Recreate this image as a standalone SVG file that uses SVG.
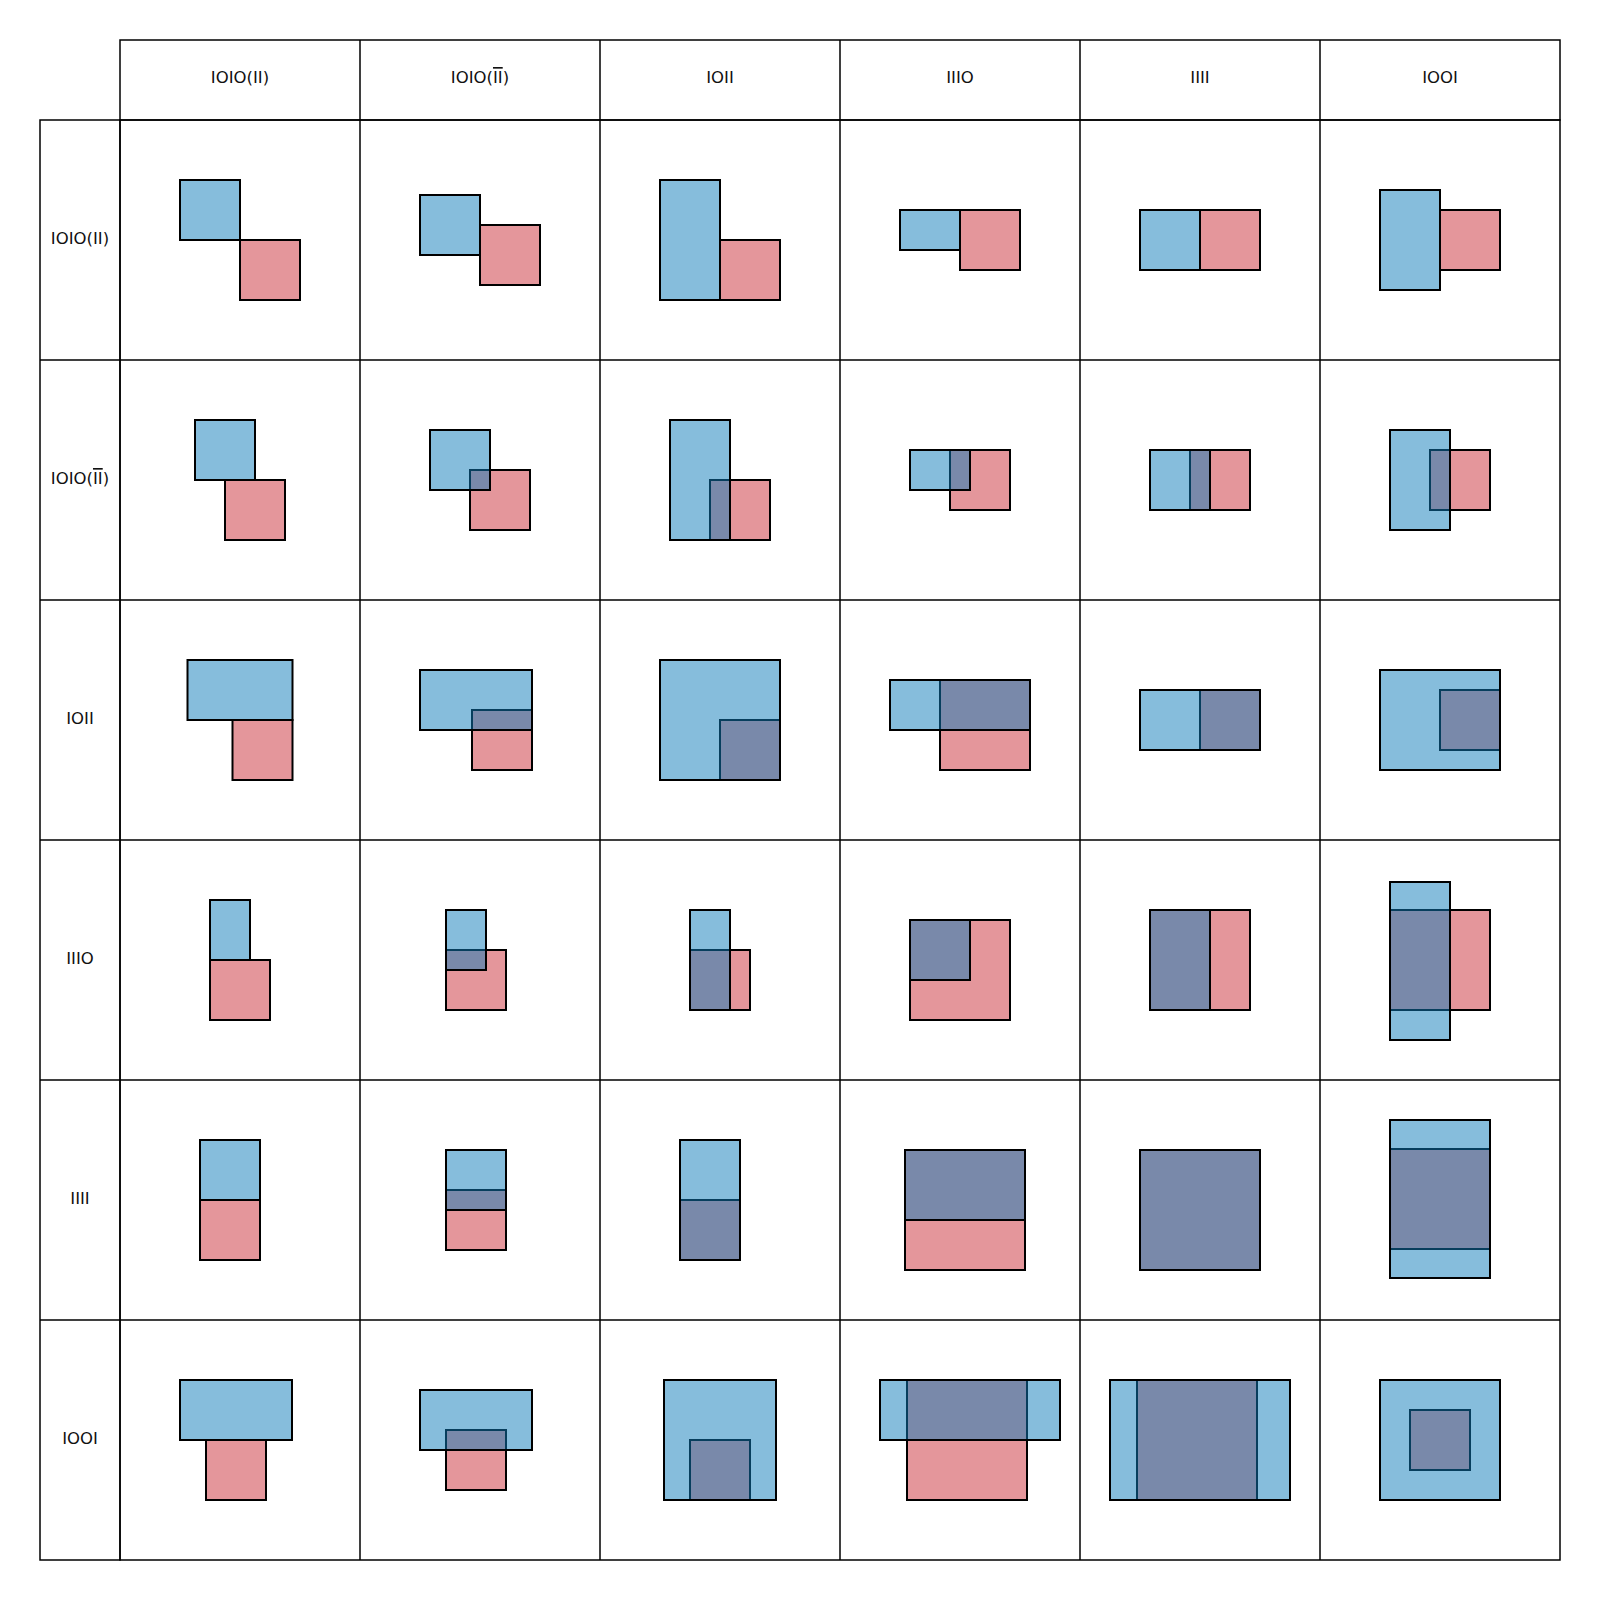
<svg xmlns="http://www.w3.org/2000/svg" width="1600" height="1600" viewBox="0 0 1600 1600">
<style>
.grid{fill:none;stroke:#000;stroke-width:1.5}
.r{fill:#e4969b;stroke:#000;stroke-width:2}
.b{fill:rgb(13,123,185);fill-opacity:.5;stroke:#000;stroke-width:2}
.lbl{font-family:"DejaVu Sans","Liberation Sans",Arial,sans-serif;font-size:16.5px;text-anchor:middle;fill:#111}
</style>
<rect width="1600" height="1600" fill="#fff"/>
<g id="grid">
<rect class="grid" x="120" y="40" width="1440" height="80"/>
<rect class="grid" x="40" y="120" width="80" height="1440"/>
<rect class="grid" x="120" y="120" width="1440" height="1440"/>
<path class="grid" d="M360 40V1560M600 40V1560M840 40V1560M1080 40V1560M1320 40V1560M40 360H1560M40 600H1560M40 840H1560M40 1080H1560M40 1320H1560"/>
</g>
<g id="headers">
<text class="lbl" x="240" y="83">IOIO(II)</text>
<text class="lbl" x="480" y="83">IOIO(<tspan text-decoration="overline">II</tspan>)</text>
<text class="lbl" x="720" y="83">IOII</text>
<text class="lbl" x="960" y="83">IIIO</text>
<text class="lbl" x="1200" y="83">IIII</text>
<text class="lbl" x="1440" y="83">IOOI</text>
</g>
<g id="row-labels">
<text class="lbl" x="80" y="244">IOIO(II)</text>
<text class="lbl" x="80" y="484">IOIO(<tspan text-decoration="overline">II</tspan>)</text>
<text class="lbl" x="80" y="724">IOII</text>
<text class="lbl" x="80" y="964">IIIO</text>
<text class="lbl" x="80" y="1204">IIII</text>
<text class="lbl" x="80" y="1444">IOOI</text>
</g>
<g id="c11"><rect class="r" x="240" y="240" width="60" height="60"/><rect class="b" x="180" y="180" width="60" height="60"/></g>
<g id="c12"><rect class="r" x="480" y="225" width="60" height="60"/><rect class="b" x="420" y="195" width="60" height="60"/></g>
<g id="c13"><rect class="r" x="720" y="240" width="60" height="60"/><rect class="b" x="660" y="180" width="60" height="120"/></g>
<g id="c14"><rect class="r" x="960" y="210" width="60" height="60"/><rect class="b" x="900" y="210" width="60" height="40"/></g>
<g id="c15"><rect class="r" x="1200" y="210" width="60" height="60"/><rect class="b" x="1140" y="210" width="60" height="60"/></g>
<g id="c16"><rect class="r" x="1440" y="210" width="60" height="60"/><rect class="b" x="1380" y="190" width="60" height="100"/></g>
<g id="c21"><rect class="r" x="225" y="480" width="60" height="60"/><rect class="b" x="195" y="420" width="60" height="60"/></g>
<g id="c22"><rect class="r" x="470" y="470" width="60" height="60"/><rect class="b" x="430" y="430" width="60" height="60"/></g>
<g id="c23"><rect class="r" x="710" y="480" width="60" height="60"/><rect class="b" x="670" y="420" width="60" height="120"/></g>
<g id="c24"><rect class="r" x="950" y="450" width="60" height="60"/><rect class="b" x="910" y="450" width="60" height="40"/></g>
<g id="c25"><rect class="r" x="1190" y="450" width="60" height="60"/><rect class="b" x="1150" y="450" width="60" height="60"/></g>
<g id="c26"><rect class="r" x="1430" y="450" width="60" height="60"/><rect class="b" x="1390" y="430" width="60" height="100"/></g>
<g id="c31"><rect class="r" x="232.5" y="720" width="60" height="60"/><rect class="b" x="187.5" y="660" width="105" height="60"/></g>
<g id="c32"><rect class="r" x="472" y="710" width="60" height="60"/><rect class="b" x="420" y="670" width="112" height="60"/></g>
<g id="c33"><rect class="r" x="720" y="720" width="60" height="60"/><rect class="b" x="660" y="660" width="120" height="120"/></g>
<g id="c34"><rect class="r" x="940" y="680" width="90" height="90"/><rect class="b" x="890" y="680" width="140" height="50"/></g>
<g id="c35"><rect class="r" x="1200" y="690" width="60" height="60"/><rect class="b" x="1140" y="690" width="120" height="60"/></g>
<g id="c36"><rect class="r" x="1440" y="690" width="60" height="60"/><rect class="b" x="1380" y="670" width="120" height="100"/></g>
<g id="c41"><rect class="r" x="210" y="960" width="60" height="60"/><rect class="b" x="210" y="900" width="40" height="60"/></g>
<g id="c42"><rect class="r" x="446" y="950" width="60" height="60"/><rect class="b" x="446" y="910" width="40" height="60"/></g>
<g id="c43"><rect class="r" x="690" y="950" width="60" height="60"/><rect class="b" x="690" y="910" width="40" height="100"/></g>
<g id="c44"><rect class="r" x="910" y="920" width="100" height="100"/><rect class="b" x="910" y="920" width="60" height="60"/></g>
<g id="c45"><rect class="r" x="1150" y="910" width="100" height="100"/><rect class="b" x="1150" y="910" width="60" height="100"/></g>
<g id="c46"><rect class="r" x="1390" y="910" width="100" height="100"/><rect class="b" x="1390" y="882" width="60" height="158"/></g>
<g id="c51"><rect class="r" x="200" y="1200" width="60" height="60"/><rect class="b" x="200" y="1140" width="60" height="60"/></g>
<g id="c52"><rect class="r" x="446" y="1190" width="60" height="60"/><rect class="b" x="446" y="1150" width="60" height="60"/></g>
<g id="c53"><rect class="r" x="680" y="1200" width="60" height="60"/><rect class="b" x="680" y="1140" width="60" height="120"/></g>
<g id="c54"><rect class="r" x="905" y="1150" width="120" height="120"/><rect class="b" x="905" y="1150" width="120" height="70"/></g>
<g id="c55"><rect class="r" x="1140" y="1150" width="120" height="120"/><rect class="b" x="1140" y="1150" width="120" height="120"/></g>
<g id="c56"><rect class="r" x="1390" y="1149" width="100" height="100"/><rect class="b" x="1390" y="1120" width="100" height="158"/></g>
<g id="c61"><rect class="r" x="206" y="1440" width="60" height="60"/><rect class="b" x="180" y="1380" width="112" height="60"/></g>
<g id="c62"><rect class="r" x="446" y="1430" width="60" height="60"/><rect class="b" x="420" y="1390" width="112" height="60"/></g>
<g id="c63"><rect class="r" x="690" y="1440" width="60" height="60"/><rect class="b" x="664" y="1380" width="112" height="120"/></g>
<g id="c64"><rect class="r" x="907" y="1380" width="120" height="120"/><rect class="b" x="880" y="1380" width="180" height="60"/></g>
<g id="c65"><rect class="r" x="1137" y="1380" width="120" height="120"/><rect class="b" x="1110" y="1380" width="180" height="120"/></g>
<g id="c66"><rect class="r" x="1410" y="1410" width="60" height="60"/><rect class="b" x="1380" y="1380" width="120" height="120"/></g>
</svg>
